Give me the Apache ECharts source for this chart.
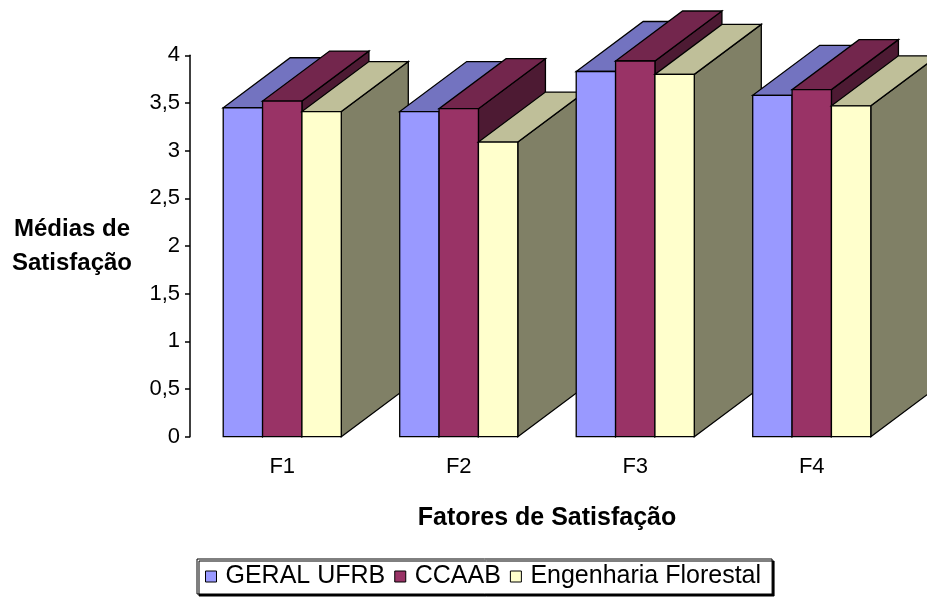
<!DOCTYPE html>
<html>
<head>
<meta charset="utf-8">
<title>Médias de Satisfação</title>
<script src="https://cdn.jsdelivr.net/npm/echarts@6/dist/echarts.min.js"></script>
<style>
  html, body { margin: 0; padding: 0; background: #fff; }
  #chart { width: 927px; height: 603px; }
</style>
</head>
<body>
<div id="chart"></div>
<script>
// Satisfaction factors and the mean score of each group
const categories = ['F1', 'F2', 'F3', 'F4'];
const seriesNames = ['GERAL UFRB', 'CCAAB', 'Engenharia Florestal'];
const geralUfrb = [3.45, 3.41, 3.83, 3.58];
const ccaab = [3.52, 3.44, 3.94, 3.64];
const engenhariaFlorestal = [3.41, 3.09, 3.80, 3.47];
const yTickValues = [0, 0.5, 1, 1.5, 2, 2.5, 3, 3.5, 4];

// Face colours of each box: front, top, side
const palettes = [
  { front: '#9999FF', top: '#7373C0', side: '#4D4D80' },
  { front: '#993366', top: '#73264D', side: '#4D1A33' },
  { front: '#FFFFCC', top: '#BFBF99', side: '#808066' }
];

// Pseudo-3D depth of each box, in pixels
const DEPTH_X = 67;
const DEPTH_Y = -50;
const BAR_RATIO = 0.223;
const FONT = 'Arial, "Liberation Sans", sans-serif';

function boxRenderer(seriesIndex) {
  const pal = palettes[seriesIndex];
  return function (params, api) {
    const ci = api.value(0);
    const v = api.value(1);
    const base = api.coord([ci, 0]);
    const top = api.coord([ci, v]);
    const band = api.size([1, 0])[0];
    const bw = band * BAR_RATIO;
    const x0 = base[0] - 1.5 * bw + seriesIndex * bw;
    const x1 = x0 + bw;
    const yb = base[1];
    const yt = top[1];
    const edge = { stroke: '#000', lineWidth: 1.3, lineJoin: 'miter' };
    // left-to-right painter order: later boxes hide the sides of earlier ones
    const z2 = ci * 10 + seriesIndex * 3;
    return {
      type: 'group',
      children: [
        {
          type: 'polygon',
          z2: z2,
          shape: { points: [[x1, yb], [x1 + DEPTH_X, yb + DEPTH_Y], [x1 + DEPTH_X, yt + DEPTH_Y], [x1, yt]] },
          style: Object.assign({ fill: pal.side }, edge)
        },
        {
          type: 'polygon',
          z2: z2 + 1,
          shape: { points: [[x0, yt], [x1, yt], [x1 + DEPTH_X, yt + DEPTH_Y], [x0 + DEPTH_X, yt + DEPTH_Y]] },
          style: Object.assign({ fill: pal.top }, edge)
        },
        {
          type: 'polygon',
          z2: z2 + 2,
          shape: { points: [[x0, yb], [x1, yb], [x1, yt], [x0, yt]] },
          style: Object.assign({ fill: pal.front }, edge)
        }
      ]
    };
  };
}

const valueSets = [geralUfrb, ccaab, engenhariaFlorestal];

const chart = echarts.init(document.getElementById('chart'), null, { renderer: 'canvas' });

chart.setOption({
  backgroundColor: '#ffffff',
  animation: false,
  textStyle: { fontFamily: FONT },
  grid: { left: 194, right: 27, top: 55.3, bottom: 166.3, containLabel: false },
  legend: {
    data: seriesNames,
    left: 197,
    top: 559,
    orient: 'horizontal',
    icon: 'rect',
    itemWidth: 11,
    itemHeight: 11,
    itemGap: 9,
    padding: [5, 11, 5, 8],
    backgroundColor: '#ffffff',
    borderColor: '#000',
    borderWidth: 1,
    shadowColor: '#000',
    shadowBlur: 0,
    shadowOffsetX: 2,
    shadowOffsetY: 2,
    itemStyle: { borderColor: '#000', borderWidth: 1 },
    textStyle: { fontFamily: FONT, fontSize: 25, color: '#000', padding: [0, 0, 0, 4] }
  },
  xAxis: {
    type: 'category',
    data: categories,
    axisLine: { show: false },
    axisTick: { show: false },
    splitLine: { show: false },
    axisLabel: { fontFamily: FONT, fontSize: 22, color: '#000', margin: 19 },
    name: 'Fatores de Satisfação',
    nameLocation: 'middle',
    nameGap: 69,
    nameTextStyle: { fontFamily: FONT, fontSize: 25, fontWeight: 'bold', color: '#000' }
  },
  yAxis: {
    type: 'value',
    min: yTickValues[0],
    max: yTickValues[yTickValues.length - 1],
    interval: yTickValues[1] - yTickValues[0],
    offset: 4,
    axisLine: { show: true, lineStyle: { color: '#000', width: 1.5 } },
    axisTick: { show: true, inside: false, length: 5, lineStyle: { color: '#000', width: 1.5 } },
    splitLine: { show: false },
    axisLabel: {
      fontFamily: FONT, fontSize: 22, color: '#000', margin: 10,
      formatter: function (v) { return String(v).replace('.', ','); }
    },
    name: 'Médias de\nSatisfação',
    nameLocation: 'middle',
    nameRotate: 0,
    nameGap: 118,
    nameTextStyle: { fontFamily: FONT, fontSize: 24, fontWeight: 'bold', color: '#000', align: 'center', lineHeight: 34 }
  },
  series: valueSets.map(function (vals, s) {
    return {
      type: 'custom',
      name: seriesNames[s],
      clip: false,
      itemStyle: { color: palettes[s].front },
      encode: { x: 0, y: 1 },
      data: vals.map(function (v, i) { return [i, v]; }),
      renderItem: boxRenderer(s)
    };
  })
});
</script>
</body>
</html>
